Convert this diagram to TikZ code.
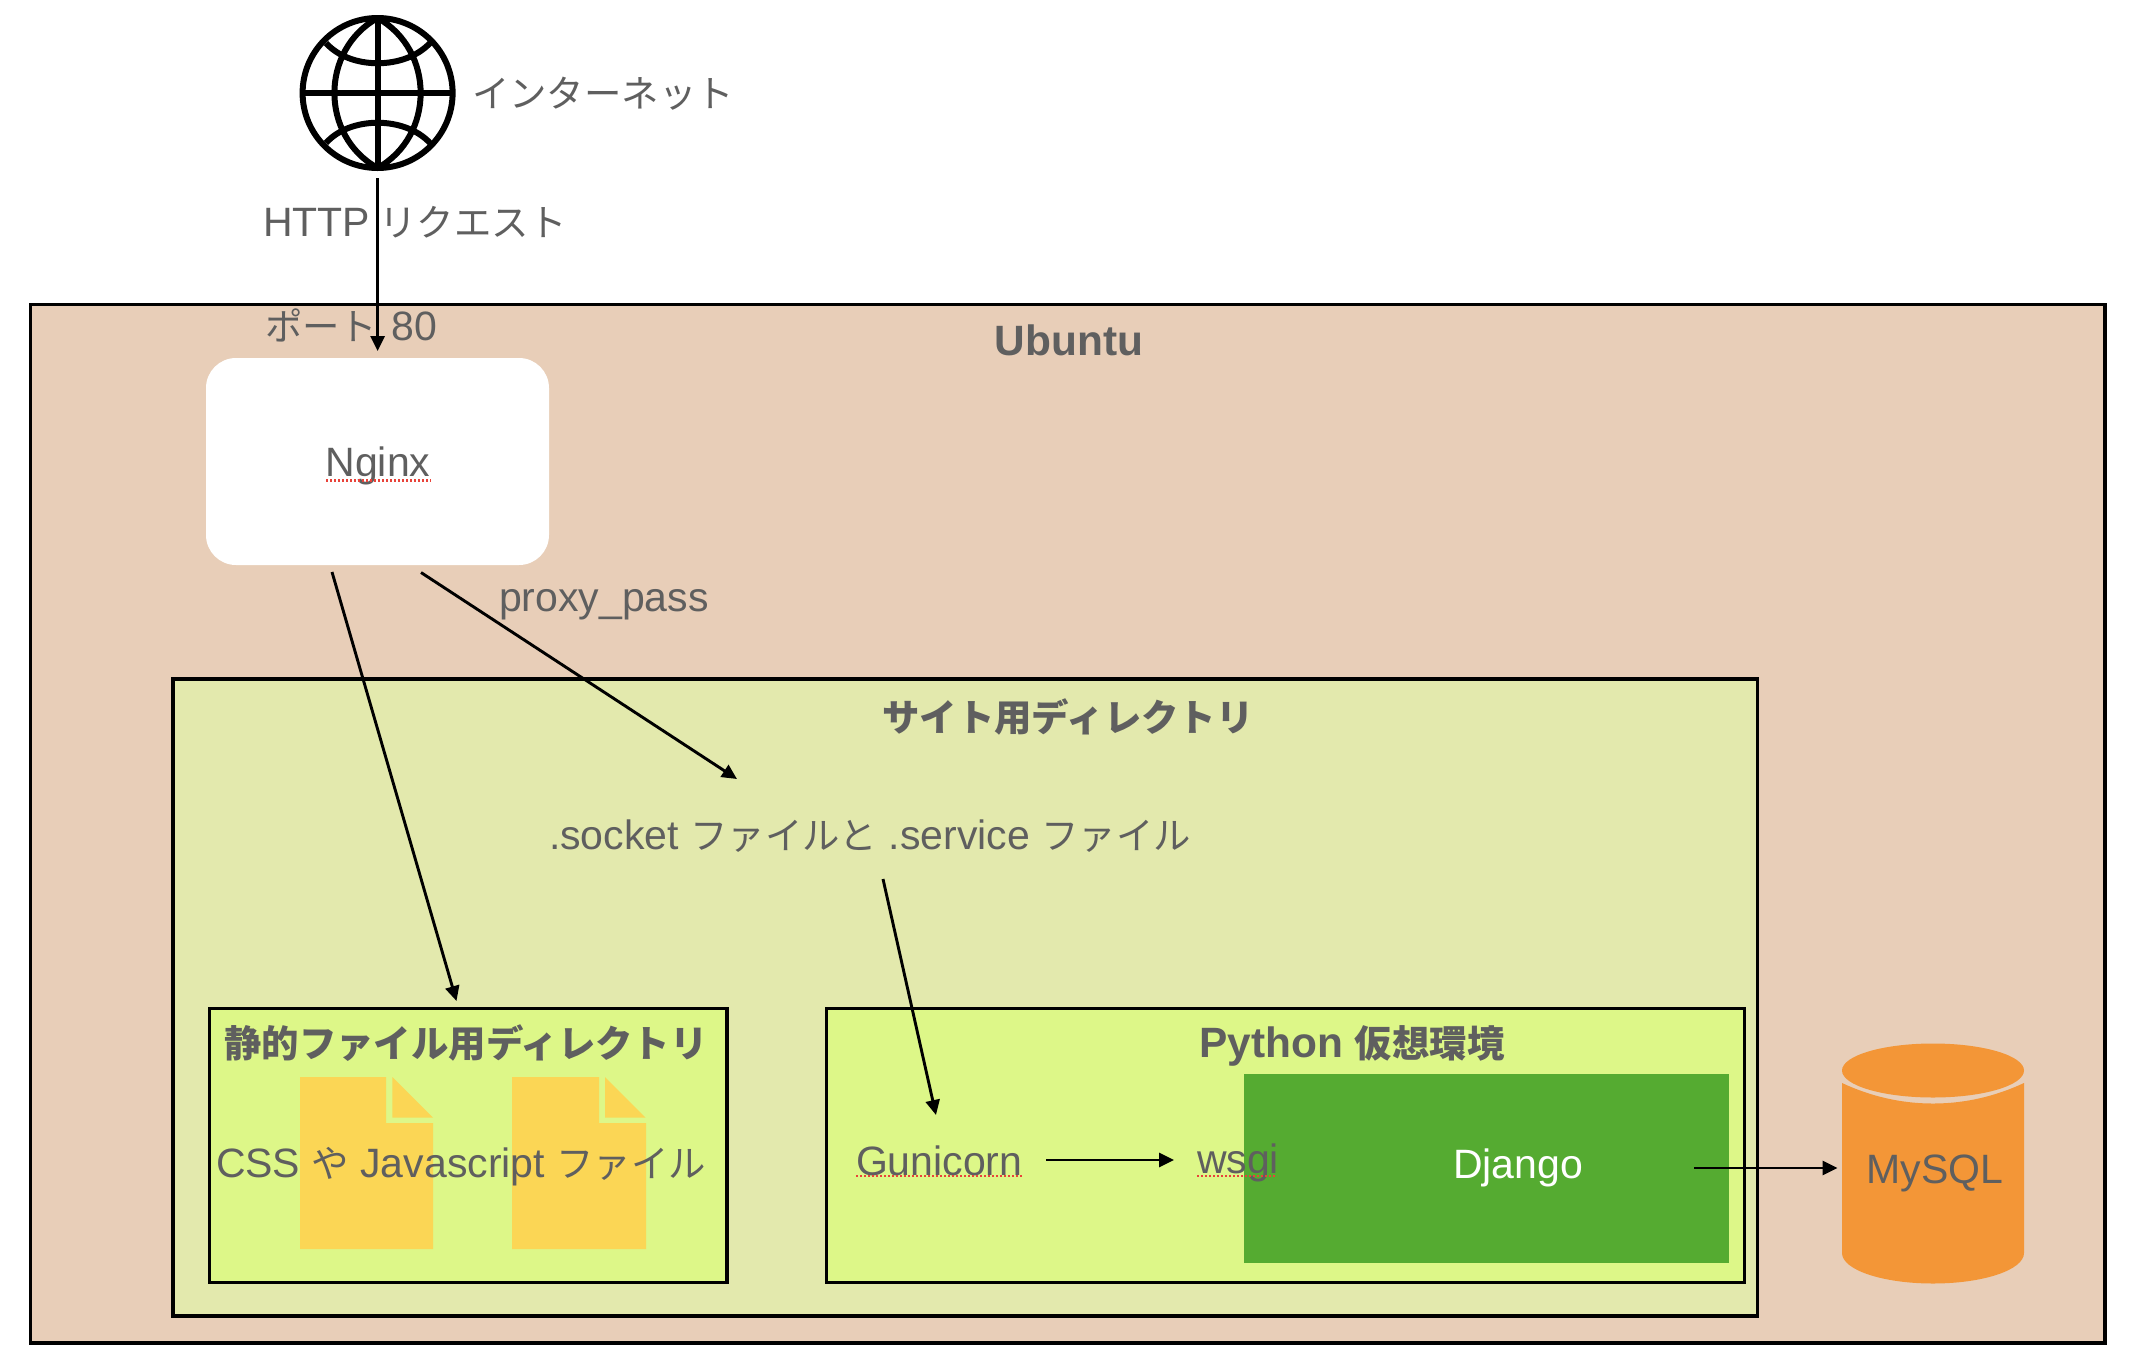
\documentclass[tikz,border=0pt]{standalone}
\usepackage{fontspec}
\setmainfont{Liberation Sans}
\newfontfamily\cjk{Noto Sans CJK JP}
\usetikzlibrary{arrows.meta}
\newcommand{\J}[1]{{\cjk\fontsize{18.7}{22}\selectfont #1}}
\definecolor{ubuntuC}{HTML}{E8CEB8}
\definecolor{siteC}{HTML}{E3E9AD}
\definecolor{innerC}{HTML}{DDF788}
\definecolor{fileC}{HTML}{FBD655}
\definecolor{orangeC}{HTML}{F39637}
\definecolor{djangoC}{HTML}{55AB31}
\definecolor{textC}{HTML}{5F5F5F}
\definecolor{spellC}{HTML}{E8433A}
\tikzset{
  every node/.style={inner sep=0pt,outer sep=0pt,text=textC,font=\fontsize{20.5}{24}\selectfont},
  frame/.style={draw=black,line width=1.7pt},
  arr/.style={draw=black,line width=1.45pt,-{Triangle[length=7.5pt,width=7pt]}},
  spell/.style={draw=spellC,line width=1.1pt,dash pattern=on 1.1pt off 0.9pt},
  globeline/.style={draw=black,line width=3pt},
  ttl/.style={font=\fontsize{21.2}{24}\selectfont\bfseries},
}
\begin{document}
\begin{tikzpicture}[x=0.5pt,y=-0.5pt]
\useasboundingbox (0,0) rectangle (2132,1366);
\fill[white] (0,0) rectangle (2132,1366);

% containers
\node[frame,fill=ubuntuC,minimum width=1037.3pt,minimum height=519.2pt,anchor=north west] (ubuntu) at (30.5,304.5) {};
\node[ttl] (ubuntuT) at (1069,340) {Ubuntu};
\node[fill=white,rounded corners=15pt,minimum width=171.5pt,minimum height=103.5pt,anchor=north west] (nginx) at (206,358) {};
\node (nginxT) at (378,466) {Nginx};
\node[frame,fill=siteC,minimum width=792.3pt,minimum height=318.5pt,anchor=north west] (site) at (173,679) {};
\node[ttl] (siteT) at (1068,717) {\J{\bfseries サイト用ディレクトリ}};
\node[frame,fill=innerC,minimum width=258.8pt,minimum height=137pt,anchor=north west] (static) at (209.5,1008.5) {};
\node[ttl] (staticT) at (466,1043) {\J{\bfseries 静的ファイル用ディレクトリ}};
\node[frame,fill=innerC,minimum width=459pt,minimum height=137pt,anchor=north west] (venv) at (826.5,1008.5) {};
\node[ttl] (venvT) at (1352,1046) {Python \J{\bfseries 仮想環境}};
\node[fill=djangoC,minimum width=242.5pt,minimum height=94.5pt,anchor=north west] (django) at (1244,1074) {};

% document icons
\fill[fileC] (300,1077) -- (386,1077) -- (386,1123) -- (433,1123) -- (433,1249) -- (300,1249) -- cycle;
\fill[fileC] (392.4,1077) -- (433,1117.7) -- (392.4,1117.7) -- cycle;
\fill[fileC] (512,1077) -- (599,1077) -- (599,1123) -- (646,1123) -- (646,1249) -- (512,1249) -- cycle;
\fill[fileC] (605,1077) -- (645.5,1117.7) -- (605,1117.7) -- cycle;

% database cylinder
\fill[orangeC] (1842,1083) .. controls (1870,1096) and (1900,1103.5) .. (1933,1103.5)
  .. controls (1966,1103.5) and (1996,1096) .. (2024,1083) -- (2024,1253)
  .. controls (2024,1270) and (1983,1283.5) .. (1933,1283.5)
  .. controls (1883,1283.5) and (1842,1270) .. (1842,1253) -- cycle;
\fill[orangeC] (1933,1070.5) ellipse [x radius=91,y radius=27];

% globe
\node[globeline,circle,minimum size=75pt] (globe) at (377.6,93) {};
\draw[globeline] (377.6,18) -- (377.6,168);
\draw[globeline] (302.6,93) -- (452.6,93);
\draw[globeline] (377.6,18) .. controls (320,50) and (320,136) .. (377.6,168);
\draw[globeline] (377.6,18) .. controls (435,50) and (435,136) .. (377.6,168);
\draw[globeline] (326,43) .. controls (350,70) and (405,70) .. (430,43);
\draw[globeline] (326,143) .. controls (350,116) and (405,116) .. (430,143);

% labels
\node[anchor=west] (inetT) at (472,94) {\J{インターネット}};
\node[anchor=west] (httpT) at (263,222) {HTTP\hspace{-1pt} \J{リクエスト}};
\node[anchor=west] (portT) at (265,325) {\J{ポート}\hspace{1.5pt} 80};
\node[anchor=west] (proxyT) at (499,605) {proxy\_pass};
\node[anchor=west] (socketT) at (549,836) {.socket \J{ファイルと} .service \J{ファイル}};
\node[anchor=west] (cssT) at (216,1167) {CSS \J{や} Javascript \J{ファイル}};
\node[anchor=west] (gunicornT) at (856,1161) {Gunicorn};
\node[anchor=west] (wsgiT) at (1197,1163) {wsgi};
\node[anchor=west,text=white] (djangoT) at (1453,1168) {Django};
\node (mysqlT) at (1935,1173) {MySQL};

% spell-check underlines
\draw[spell] (326,480.5) -- (431,480.5);
\draw[spell] (856,1176) -- (1022,1176);
\draw[spell] (1197,1176) -- (1277,1176);

% connector ends
\coordinate (inA) at (377.6,178);
\coordinate (inB) at (377.6,351);
\coordinate (stA) at (332,572);
\coordinate (stB) at (456.5,1001);
\coordinate (prA) at (421,572.5);
\coordinate (prB) at (737,779);
\coordinate (soA) at (883,879);
\coordinate (soB) at (936,1115);
\coordinate (guA) at (1046,1160);
\coordinate (guB) at (1174,1160);
\coordinate (djA) at (1694,1168);
\coordinate (djB) at (1837.5,1168);

\draw[arr] (inA) -- (inB);
\draw[arr] (stA) -- (stB);
\draw[arr] (prA) -- (prB);
\draw[arr] (soA) -- (soB);
\draw[arr] (guA) -- (guB);
\draw[arr] (djA) -- (djB);
\end{tikzpicture}
\end{document}
